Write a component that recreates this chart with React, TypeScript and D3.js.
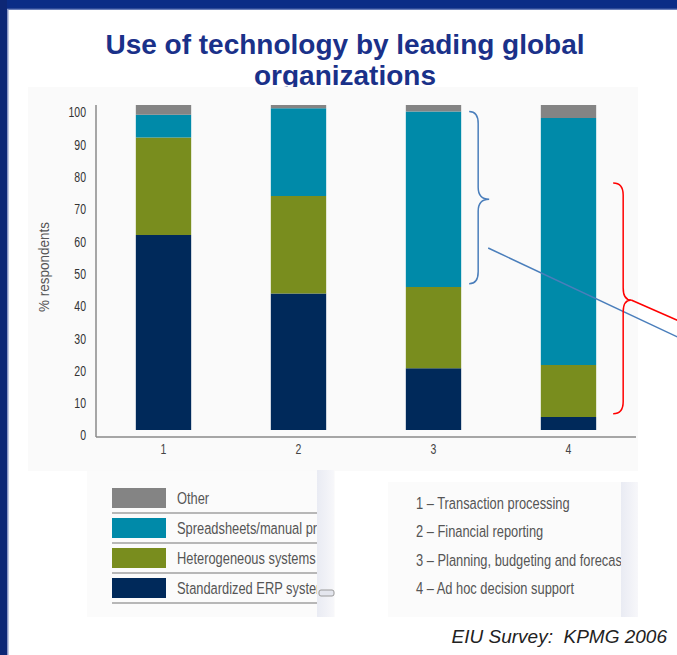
import React from "react";
import * as d3 from "d3";

// ---- Data ----
const categories = ["1", "2", "3", "4"];
const erpValues = [60, 42, 19, 4]; // Standardized ERP systems
const heterogeneousValues = [30, 30, 25, 16]; // Heterogeneous systems
const spreadsheetValues = [7, 27, 54, 76]; // Spreadsheets/manual processes
const otherValues = [3, 1, 2, 4]; // Other
const seriesKeys = ["erp", "het", "spr", "oth"];
const seriesLabels = [
  "Standardized ERP systems",
  "Heterogeneous systems",
  "Spreadsheets/manual processes",
  "Other",
];
const seriesColors = ["#00295a", "#798d1e", "#008aa9", "#848484"];
const yTicks = [0, 10, 20, 30, 40, 50, 60, 70, 80, 90, 100];
const categoryDescriptions = [
  "1 – Transaction processing",
  "2 – Financial reporting",
  "3 – Planning, budgeting and forecasting",
  "4 – Ad hoc decision support",
];
// annotation braces (in % units of the stacked bars)
const blueBrace = { cat: "3", from: 98, to: 45, tip: 71, lineAt: 56 };
const redBrace = { cat: "4", from: 76, to: 5, tip: 40 };

const SANS = "'Liberation Sans', Arial, sans-serif";

function bracePath(x0: number, x1: number, x2: number, y1: number, y2: number, ym: number) {
  const r = 12;
  return [
    `M${x0},${y1}`,
    `Q${x1},${y1} ${x1},${y1 + r}`,
    `L${x1},${ym - r}`,
    `Q${x1},${ym} ${x2},${ym}`,
    `Q${x1},${ym} ${x1},${ym + r}`,
    `L${x1},${y2 - r}`,
    `Q${x1},${y2} ${x0},${y2}`,
  ].join(" ");
}

function NText(props: {
  x: number;
  y: number;
  size: number;
  squeeze?: number;
  anchor?: string;
  fill?: string;
  rotate?: number;
  children: React.ReactNode;
}) {
  const { x, y, size, squeeze = 0.78, anchor = "start", fill = "#555", rotate = 0, children } = props;
  return (
    <text
      transform={`translate(${x},${y}) rotate(${rotate}) scale(${squeeze},1)`}
      dy="0.35em"
      textAnchor={anchor}
      fontFamily={SANS}
      fontSize={size}
      fill={fill}
    >
      {children}
    </text>
  );
}

export default function App() {
  const W = 677;
  const H = 655;

  const table = categories.map((c, i) => ({
    cat: c,
    erp: erpValues[i],
    het: heterogeneousValues[i],
    spr: spreadsheetValues[i],
    oth: otherValues[i],
  }));
  const stacked = d3.stack<any>().keys(seriesKeys)(table);

  const x = d3
    .scaleBand<string>()
    .domain(categories)
    .range([96, 636])
    .paddingInner(0.59)
    .paddingOuter(0.295);
  const yAxis = d3.scaleLinear().domain([0, 100]).range([435.5, 112.5]);
  const yBar = d3.scaleLinear().domain([0, 100]).range([430, 105]);
  const bw = x.bandwidth();

  const bx0 = (x(blueBrace.cat) as number) + bw + 8;
  const bPath = bracePath(bx0, bx0 + 9, bx0 + 20, yBar(blueBrace.from), yBar(blueBrace.to), yBar(blueBrace.tip));
  const blx = bx0 + 19;
  const bly = yBar(blueBrace.lineAt);
  const rx0 = (x(redBrace.cat) as number) + bw + 17;
  const ry = yBar(redBrace.tip);
  const rPath = bracePath(rx0, rx0 + 10, rx0 + 18, yBar(redBrace.from), yBar(redBrace.to), ry);

  const legendOrder = [3, 2, 1, 0];

  return (
    <svg width={W} height={H} style={{ position: "fixed", left: 0, top: 0, background: "#ffffff" }}>
      <defs>
        <linearGradient id="strip" x1="0" x2="1" y1="0" y2="0">
          <stop offset="0" stopColor="#e9ebf3" />
          <stop offset="1" stopColor="#f7f7fa" />
        </linearGradient>
        <linearGradient id="topbar" x1="0" x2="0" y1="0" y2="1">
          <stop offset="0" stopColor="#0a2c86" />
          <stop offset="0.8" stopColor="#0a2c86" />
          <stop offset="1" stopColor="#8c9ccb" />
        </linearGradient>
        <clipPath id="legClip">
          <rect x={100} y={470} width={217} height={150} />
        </clipPath>
        <clipPath id="catClip">
          <rect x={390} y={480} width={231} height={140} />
        </clipPath>
      </defs>

      {/* frame */}
      <rect x={0} y={0} width={W} height={H} fill="#ffffff" />
      <rect x={0} y={0} width={W} height={10} fill="url(#topbar)" />
      <rect x={0} y={0} width={7} height={H} fill="#0d2775" />
      <rect x={7} y={9} width={1.5} height={H} fill="#8a96c4" />

      {/* title */}
      <text x={345} y={54} textAnchor="middle" fontFamily={SANS} fontWeight="bold" fontSize={28} fill="#1a3189">
        Use of technology by leading global
      </text>
      <text x={345} y={85} textAnchor="middle" fontFamily={SANS} fontWeight="bold" fontSize={28} fill="#1a3189">
        organizations
      </text>

      {/* chart panel */}
      <rect x={28} y={87} width={610} height={384} fill="#fafafa" />

      {/* bars */}
      {stacked.map((s, si) => (
        <g key={s.key} fill={seriesColors[si]}>
          {s.map((d: any) => (
            <rect
              key={d.data.cat}
              x={x(d.data.cat)}
              width={bw}
              y={yBar(d[1])}
              height={yBar(d[0]) - yBar(d[1])}
            />
          ))}
        </g>
      ))}

      {/* axes */}
      <line x1={96} x2={96} y1={105} y2={437} stroke="#8a8a8a" strokeWidth={1.5} />
      <line x1={96} x2={636} y1={437} y2={437} stroke="#8a8a8a" strokeWidth={1.5} />
      {yTicks.map((t) => (
        <NText key={t} x={86} y={yAxis(t)} size={14} squeeze={0.75} anchor="end" fill="#333">
          {t}
        </NText>
      ))}
      {categories.map((c) => (
        <NText key={c} x={(x(c) as number) + bw / 2} y={449} size={14} squeeze={0.75} anchor="middle" fill="#444">
          {c}
        </NText>
      ))}
      <NText x={44} y={267} size={15.5} squeeze={0.87} rotate={-90} anchor="middle" fill="#555">
        % respondents
      </NText>

      {/* annotations */}
      <path d={bPath} fill="none" stroke="#4a7ebb" strokeWidth={1.5} />
      <line x1={blx} y1={bly} x2={720} y2={bly + (720 - blx) * 0.47} stroke="#4a7ebb" strokeWidth={1.5} />
      <path d={rPath} fill="none" stroke="#ff0000" strokeWidth={1.5} />
      <line x1={rx0 + 18} y1={ry} x2={720} y2={ry + (720 - rx0 - 18) * 0.44} stroke="#ff0000" strokeWidth={1.5} />

      {/* series legend */}
      <rect x={87} y={471} width={248} height={146} fill="#fbfbfb" />
      <rect x={317} y={470} width={17} height={147} fill="url(#strip)" />
      <rect x={319} y={590} width={15} height={6} rx={2} fill="#e4e6ee" stroke="#9a9a9a" strokeWidth={1} />
      {legendOrder.map((si, row) => {
        const top = 488 + row * 30;
        return (
          <g key={si}>
            <rect x={112} y={top} width={54} height={20} fill={seriesColors[si]} />
            <line x1={112} x2={317} y1={top + 25} y2={top + 25} stroke="#a0a0a0" strokeWidth={1.3} />
            <g clipPath="url(#legClip)">
              <NText x={177} y={top + 10} size={16.5} fill="#555">
                {seriesLabels[si]}
              </NText>
            </g>
          </g>
        );
      })}

      {/* category legend */}
      <rect x={388} y={482} width={250} height={135} fill="#fbfbfb" />
      <rect x={621} y={482} width={17} height={135} fill="url(#strip)" />
      <g clipPath="url(#catClip)">
        {categoryDescriptions.map((t, i) => (
          <NText key={t} x={416} y={503 + i * 28.5} size={16.5} fill="#555">
            {t}
          </NText>
        ))}
      </g>

      {/* source */}
      <text
        x={667}
        y={643}
        textAnchor="end"
        fontFamily={SANS}
        fontStyle="italic"
        fontSize={19}
        fill="#222"
        style={{ whiteSpace: "pre" }}
      >
        {"EIU Survey:  KPMG 2006"}
      </text>
    </svg>
  );
}
